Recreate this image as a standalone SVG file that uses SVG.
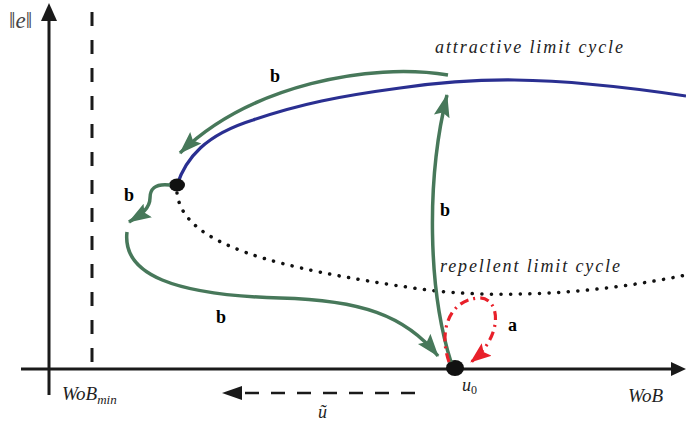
<svg xmlns="http://www.w3.org/2000/svg" width="686" height="423" viewBox="0 0 686 423" font-family="'Liberation Serif', 'Times New Roman', serif">
<defs>
<marker id="ga" markerUnits="userSpaceOnUse" markerWidth="24" markerHeight="18" viewBox="0 0 24 18" refX="22" refY="9" orient="auto">
<path d="M0,1 L23,9 L0,17 L4,9 z" fill="#47785a"/>
</marker>
<marker id="ra" markerUnits="userSpaceOnUse" markerWidth="22" markerHeight="18" viewBox="0 0 22 18" refX="20" refY="9" orient="auto">
<path d="M0,1 L21,9 L0,17 L4,9 z" fill="#e8202a"/>
</marker>
</defs>

<g id="axes">
<g stroke="#1a1a1a" stroke-width="3" fill="none">
<line x1="49" y1="395" x2="49" y2="18"/>
<line x1="21" y1="369" x2="674" y2="369"/>
<line x1="92" y1="12" x2="92" y2="362" stroke-dasharray="14 14"/>
</g>
<polygon points="49,3 41,21 57,21" fill="#1a1a1a"/>
<polygon points="686,369 671,362 671,376" fill="#1a1a1a"/>
<text x="9" y="28" font-size="23" fill="#444">‖<tspan font-style="italic">e</tspan>‖</text>
<text x="62" y="400" font-style="italic" font-size="19" fill="#222">WoB<tspan font-size="13" dy="4">min</tspan></text>
<text x="628" y="402" font-style="italic" font-size="19" fill="#222">WoB</text>
</g>

<g id="attractive-cycle">
<path d="M177,185 C186,158 205,135 253,120 C300,104 340,96 400,88 C470,78 540,74 686,96" stroke="#2a2f91" stroke-width="3.2" fill="none"/>
<text x="435" y="53" font-style="italic" font-size="18" fill="#222" textLength="188">attractive limit cycle</text>
</g>

<g id="repellent-cycle">
<path d="M177,193 C183,245 275,268 420,289 C500,300 600,293 686,275" stroke="#111" stroke-width="3.5" fill="none" stroke-linecap="round" stroke-dasharray="0.1 9.5"/>
<text x="440" y="272" font-style="italic" font-size="18" fill="#222" textLength="180">repellent limit cycle</text>
</g>

<g id="node-bif">
<ellipse cx="177" cy="185" rx="8" ry="6.5" fill="#111"/>
</g>

<g id="node-u0">
<ellipse cx="455" cy="368" rx="9" ry="8" fill="#111"/>
<text x="462" y="391" font-style="italic" font-size="18" fill="#222">u<tspan font-size="12" font-style="normal" dy="3">0</tspan></text>
</g>

<g id="connectors">
<g stroke="#47785a" stroke-width="3.5" fill="none" marker-end="url(#ga)">
<path d="M448,75 C370,62 250,85 180,153"/>
<path d="M170,185 C154,183 150,190 150,198 C150,208 142,214 129,222"/>
<path d="M127,232 C122,275 175,295 280,298 C360,300 405,315 438,356"/>
<path d="M451,362 C428,290 426,180 447,95"/>
</g>
<path d="M449,362 C438,330 450,300 478,298 C500,296 505,335 471,362" stroke="#e8202a" stroke-width="3.2" fill="none" stroke-dasharray="9 5 2 5" marker-end="url(#ra)"/>
<line x1="415" y1="393" x2="238" y2="393" stroke="#1a1a1a" stroke-width="2.5" stroke-dasharray="14 12"/>
<polygon points="222,393 242,386 242,400" fill="#1a1a1a"/>
<g font-weight="bold" font-size="18" fill="#000">
<text x="270" y="82">b</text>
<text x="124" y="201">b</text>
<text x="440" y="216">b</text>
<text x="216" y="323">b</text>
<text x="508" y="331">a</text>
</g>
<text x="318" y="418" font-style="italic" font-size="18" fill="#222">ũ</text>
</g>
</svg>
